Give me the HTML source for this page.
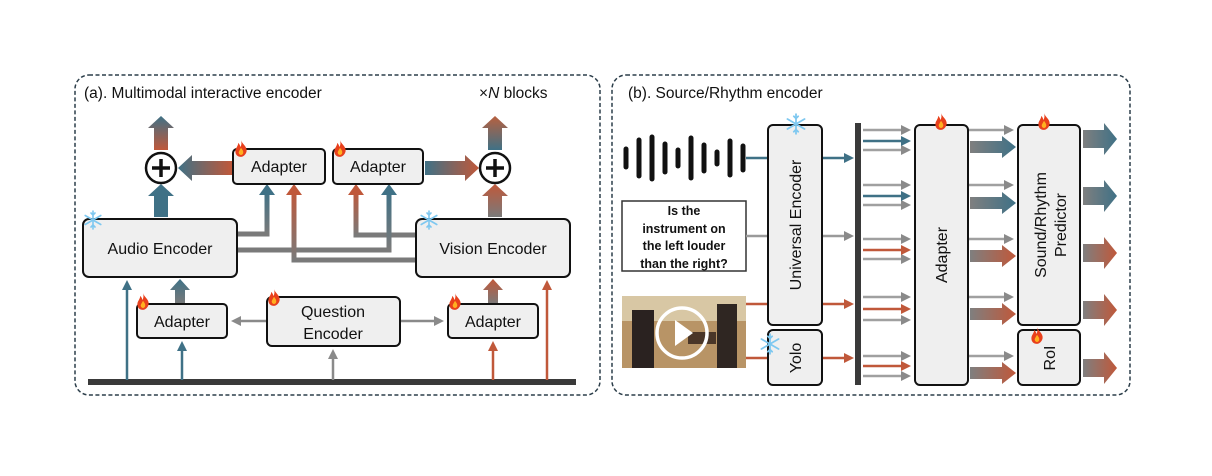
<!DOCTYPE html>
<html><head><meta charset="utf-8"><style>
html,body{margin:0;padding:0;background:#fff;width:1212px;height:476px;overflow:hidden}
svg{display:block}
text{font-family:"Liberation Sans",sans-serif;fill:#111}
</style></head><body>
<svg width="1212" height="476" viewBox="0 0 1212 476" xmlns="http://www.w3.org/2000/svg">
<defs>
<linearGradient id="vBO" x1="0" y1="0" x2="0" y2="1"><stop offset="0" stop-color="#3f7186"/><stop offset="1" stop-color="#c0583a"/></linearGradient>
<linearGradient id="vOB" x1="0" y1="0" x2="0" y2="1"><stop offset="0" stop-color="#b8603f"/><stop offset="1" stop-color="#3f7186"/></linearGradient>
<linearGradient id="vBG" x1="0" y1="0" x2="0" y2="1"><stop offset="0" stop-color="#3f7186"/><stop offset="1" stop-color="#7a7a7a"/></linearGradient>
<linearGradient id="vOG" x1="0" y1="0" x2="0" y2="1"><stop offset="0" stop-color="#c0583a"/><stop offset="1" stop-color="#7a7a7a"/></linearGradient>
<linearGradient id="hBO" x1="0" y1="0" x2="1" y2="0"><stop offset="0" stop-color="#3f7186"/><stop offset="1" stop-color="#c0583a"/></linearGradient>
<linearGradient id="hGB" x1="0" y1="0" x2="1" y2="0"><stop offset="0" stop-color="#7f7f7f"/><stop offset="1" stop-color="#3f7186"/></linearGradient>
<linearGradient id="hGO" x1="0" y1="0" x2="1" y2="0"><stop offset="0" stop-color="#7f7f7f"/><stop offset="1" stop-color="#c0583a"/></linearGradient>
<symbol id="fl" viewBox="0 0 20 24"><path d="M10 0 C12 6 19 9 18 16 C17 21 13 24 10 24 C5 24 2 21 2 16 C2 11 6 9 6 4 C8 6 9 8 9 10 C11 7 11 3 10 0Z" fill="#e8401c"/><path d="M10 11 C12 14 14 16 13 19 C12 22 8 22 7 19 C6 17 8 15 10 11Z" fill="#ffb020"/></symbol>
<symbol id="sf" viewBox="-10 -10 20 20"><g stroke="#7ec8f0" stroke-width="1.6" stroke-linecap="round"><line x1="0" y1="-9" x2="0" y2="9"/><line x1="-7.8" y1="-4.5" x2="7.8" y2="4.5"/><line x1="-7.8" y1="4.5" x2="7.8" y2="-4.5"/><path d="M-2 -7 L0 -5 L2 -7 M-2 7 L0 5 L2 7" fill="none"/></g></symbol>
<marker id="ab" markerWidth="10" markerHeight="10" refX="7" refY="5" orient="auto" markerUnits="userSpaceOnUse"><path d="M0 0 L10 5 L0 10Z" fill="#3f7186"/></marker>
<marker id="ao" markerWidth="10" markerHeight="10" refX="7" refY="5" orient="auto" markerUnits="userSpaceOnUse"><path d="M0 0 L10 5 L0 10Z" fill="#c0583a"/></marker>
<marker id="ag" markerWidth="10" markerHeight="10" refX="7" refY="5" orient="auto" markerUnits="userSpaceOnUse"><path d="M0 0 L10 5 L0 10Z" fill="#8a8a8a"/></marker>
</defs>

<rect x="75" y="75" width="525" height="320" rx="14" fill="none" stroke="#2c3e4a" stroke-width="1.5" stroke-dasharray="4,2.5"/>
<text x="84" y="98" font-size="15.5">(a). Multimodal interactive encoder</text>
<text x="479" y="98" font-size="15.5">×<tspan font-style="italic">N</tspan> blocks</text>

<g fill="none" stroke="#7a7a7a" stroke-width="5">
<polyline points="237,234 267,234 267,192"/>
<polyline points="237,250 389,250 389,192"/>
<polyline points="416,235 356,235 356,192"/>
<polyline points="416,260 294,260 294,192"/>
</g>
<rect x="264.5" y="190" width="5" height="44" fill="url(#vBG)"/>
<rect x="386.5" y="190" width="5" height="60" fill="url(#vBG)"/>
<rect x="353.5" y="190" width="5" height="45" fill="url(#vOG)"/>
<rect x="291.5" y="190" width="5" height="70" fill="url(#vOG)"/>
<path d="M259 195 L267 184 L275 195Z" fill="#3f7186"/>
<path d="M381 195 L389 184 L397 195Z" fill="#3f7186"/>
<path d="M348 195 L356 184 L364 195Z" fill="#c0583a"/>
<path d="M286 195 L294 184 L302 195Z" fill="#c0583a"/>

<rect x="88" y="379" width="488" height="6" fill="#3a3a3a"/>
<g stroke-width="2.5">
<line x1="127" y1="380" x2="127" y2="283" stroke="#3f7186" marker-end="url(#ab)"/>
<line x1="182" y1="380" x2="182" y2="344" stroke="#3f7186" marker-end="url(#ab)"/>
<line x1="333" y1="380" x2="333" y2="352" stroke="#8a8a8a" marker-end="url(#ag)"/>
<line x1="493" y1="380" x2="493" y2="344" stroke="#c0583a" marker-end="url(#ao)"/>
<line x1="547" y1="380" x2="547" y2="283" stroke="#c0583a" marker-end="url(#ao)"/>
<line x1="266" y1="321" x2="234" y2="321" stroke="#8a8a8a" marker-end="url(#ag)"/>
<line x1="401" y1="321" x2="441" y2="321" stroke="#8a8a8a" marker-end="url(#ag)"/>
</g>

<path d="M154 150 L154 128 L148 128 L161 116 L174 128 L168 128 L168 150Z" fill="url(#vBO)"/>
<path d="M488 150 L488 128 L482 128 L495 116 L508 128 L502 128 L502 150Z" fill="url(#vOB)"/>
<path d="M154 217 L154 196 L148 196 L161 184 L174 196 L168 196 L168 217Z" fill="#3f7186"/>
<path d="M488 217 L488 196 L482 196 L495 184 L508 196 L502 196 L502 217Z" fill="url(#vOG)"/>
<path d="M175 304 L175 290 L170 290 L180 279 L190 290 L185 290 L185 304Z" fill="url(#vBG)"/>
<path d="M488 304 L488 290 L483 290 L493 279 L503 290 L498 290 L498 304Z" fill="url(#vOG)"/>
<path d="M232 161 L192 161 L192 155 L178 168 L192 181 L192 175 L232 175Z" fill="url(#hBO)"/>
<path d="M425 161 L465 161 L465 155 L479 168 L465 181 L465 175 L425 175Z" fill="url(#hBO)"/>

<g fill="#fff" stroke="#111" stroke-width="2.5">
<circle cx="161" cy="168" r="15"/><circle cx="495" cy="168" r="15"/>
</g>
<g stroke="#111" stroke-width="3.5"><line x1="152" y1="168" x2="170" y2="168"/><line x1="161" y1="159" x2="161" y2="177"/><line x1="486" y1="168" x2="504" y2="168"/><line x1="495" y1="159" x2="495" y2="177"/></g>

<g fill="#efefef" stroke="#111" stroke-width="2">
<rect x="83" y="219" width="154" height="58" rx="6"/>
<rect x="416" y="219" width="154" height="58" rx="6"/>
<rect x="233" y="149" width="92" height="35" rx="4"/>
<rect x="333" y="149" width="90" height="35" rx="4"/>
<rect x="137" y="304" width="90" height="34" rx="4"/>
<rect x="267" y="297" width="133" height="49" rx="5"/>
<rect x="448" y="304" width="90" height="34" rx="4"/>
</g>
<g font-size="16" text-anchor="middle">
<text x="160" y="254">Audio Encoder</text>
<text x="493" y="254">Vision Encoder</text>
<text x="279" y="172">Adapter</text>
<text x="378" y="172">Adapter</text>
<text x="182" y="327">Adapter</text>
<text x="493" y="327">Adapter</text>
<text x="333" y="317">Question</text>
<text x="333" y="339">Encoder</text>
</g>
<use href="#fl" x="234" y="140" width="14" height="17"/>
<use href="#fl" x="333" y="140" width="14" height="17"/>
<use href="#fl" x="136" y="293" width="14" height="17"/>
<use href="#fl" x="267" y="289" width="14" height="17"/>
<use href="#fl" x="448" y="293" width="14" height="17"/>
<use href="#sf" x="83" y="210" width="20" height="20"/>
<use href="#sf" x="419" y="210" width="20" height="20"/>

<rect x="612" y="75" width="518" height="320" rx="14" fill="none" stroke="#2c3e4a" stroke-width="1.5" stroke-dasharray="4,2.5"/>
<text x="628" y="98" font-size="15.5">(b). Source/Rhythm encoder</text>

<g stroke="#111" stroke-width="5" stroke-linecap="round">
<line x1="626" y1="149" x2="626" y2="167"/><line x1="639" y1="140" x2="639" y2="176"/>
<line x1="652" y1="137" x2="652" y2="179"/><line x1="665" y1="144" x2="665" y2="172"/>
<line x1="678" y1="150" x2="678" y2="166"/><line x1="691" y1="138" x2="691" y2="178"/>
<line x1="704" y1="145" x2="704" y2="171"/><line x1="717" y1="152" x2="717" y2="164"/>
<line x1="730" y1="141" x2="730" y2="175"/><line x1="743" y1="146" x2="743" y2="170"/>
</g>
<rect x="622" y="201" width="124" height="70" fill="#fff" stroke="#333" stroke-width="1.5"/>
<g font-size="12.5" text-anchor="middle" font-weight="bold" fill="#222">
<text x="684" y="215">Is the</text><text x="684" y="233">instrument on</text>
<text x="684" y="250">the left louder</text><text x="684" y="268">than the right?</text>
</g>
<rect x="622" y="296" width="124" height="72" fill="#b89466"/>
<rect x="622" y="296" width="124" height="25" fill="#d8c7a4"/>
<rect x="632" y="310" width="22" height="58" fill="#2a2220"/>
<rect x="717" y="304" width="20" height="64" fill="#2f2622"/>
<rect x="688" y="332" width="28" height="12" fill="#4a3628"/>
<circle cx="682" cy="333" r="25" fill="none" stroke="#fff" stroke-width="3.5"/>
<path d="M675 320 L693 333 L675 346Z" fill="#fff"/>

<g stroke-width="2.5" fill="none">
<line x1="746" y1="158" x2="768" y2="158" stroke="#3f7186"/>
<line x1="822" y1="158" x2="851" y2="158" stroke="#3f7186" marker-end="url(#ab)"/>
<line x1="746" y1="236" x2="768" y2="236" stroke="#9a9a9a"/>
<line x1="822" y1="236" x2="851" y2="236" stroke="#9a9a9a" marker-end="url(#ag)"/>
<line x1="746" y1="304" x2="768" y2="304" stroke="#c0583a"/>
<line x1="822" y1="304" x2="851" y2="304" stroke="#c0583a" marker-end="url(#ao)"/>
<line x1="746" y1="358" x2="768" y2="358" stroke="#c0583a"/>
<line x1="822" y1="358" x2="851" y2="358" stroke="#c0583a" marker-end="url(#ao)"/>
</g>
<rect x="855" y="123" width="6" height="262" fill="#3a3a3a"/>

<g stroke-width="2.5">
<g stroke="#a0a0a0"><line x1="863" y1="130" x2="908" y2="130" marker-end="url(#ag)"/><line x1="863" y1="150" x2="908" y2="150" marker-end="url(#ag)"/>
<line x1="863" y1="185" x2="908" y2="185" marker-end="url(#ag)"/><line x1="863" y1="205" x2="908" y2="205" marker-end="url(#ag)"/>
<line x1="863" y1="239" x2="908" y2="239" marker-end="url(#ag)"/><line x1="863" y1="259" x2="908" y2="259" marker-end="url(#ag)"/>
<line x1="863" y1="297" x2="908" y2="297" marker-end="url(#ag)"/><line x1="863" y1="320" x2="908" y2="320" marker-end="url(#ag)"/>
<line x1="863" y1="356" x2="908" y2="356" marker-end="url(#ag)"/><line x1="863" y1="376" x2="908" y2="376" marker-end="url(#ag)"/></g>
<line x1="863" y1="141" x2="908" y2="141" stroke="#3f7186" marker-end="url(#ab)"/>
<line x1="863" y1="196" x2="908" y2="196" stroke="#3f7186" marker-end="url(#ab)"/>
<line x1="863" y1="250" x2="908" y2="250" stroke="#c0583a" marker-end="url(#ao)"/>
<line x1="863" y1="309" x2="908" y2="309" stroke="#c0583a" marker-end="url(#ao)"/>
<line x1="863" y1="366" x2="908" y2="366" stroke="#c0583a" marker-end="url(#ao)"/>
<g stroke="#a0a0a0"><line x1="968" y1="130" x2="1011" y2="130" marker-end="url(#ag)"/>
<line x1="968" y1="185" x2="1011" y2="185" marker-end="url(#ag)"/>
<line x1="968" y1="239" x2="1011" y2="239" marker-end="url(#ag)"/>
<line x1="968" y1="297" x2="1011" y2="297" marker-end="url(#ag)"/>
<line x1="968" y1="356" x2="1011" y2="356" marker-end="url(#ag)"/></g>
</g>
<g>
<path d="M970 141 L1002 141 L1002 136 L1016 147 L1002 158 L1002 153 L970 153Z" fill="url(#hGB)"/>
<path d="M970 197 L1002 197 L1002 192 L1016 203 L1002 214 L1002 209 L970 209Z" fill="url(#hGB)"/>
<path d="M970 250 L1002 250 L1002 245 L1016 256 L1002 267 L1002 262 L970 262Z" fill="url(#hGO)"/>
<path d="M970 308 L1002 308 L1002 303 L1016 314 L1002 325 L1002 320 L970 320Z" fill="url(#hGO)"/>
<path d="M970 367 L1002 367 L1002 362 L1016 373 L1002 384 L1002 379 L970 379Z" fill="url(#hGO)"/>
</g>
<g>
<path d="M1083 130 L1104 130 L1104 123 L1117 139 L1104 155 L1104 148 L1083 148Z" fill="url(#hGB)"/>
<path d="M1083 187 L1104 187 L1104 180 L1117 196 L1104 212 L1104 205 L1083 205Z" fill="url(#hGB)"/>
<path d="M1083 244 L1104 244 L1104 237 L1117 253 L1104 269 L1104 262 L1083 262Z" fill="url(#hGO)"/>
<path d="M1083 301 L1104 301 L1104 294 L1117 310 L1104 326 L1104 319 L1083 319Z" fill="url(#hGO)"/>
<path d="M1083 359 L1104 359 L1104 352 L1117 368 L1104 384 L1104 377 L1083 377Z" fill="url(#hGO)"/>
</g>

<g fill="#efefef" stroke="#111" stroke-width="2">
<rect x="768" y="125" width="54" height="200" rx="5"/>
<rect x="768" y="330" width="54" height="55" rx="5"/>
<rect x="915" y="125" width="53" height="260" rx="5"/>
<rect x="1018" y="125" width="62" height="200" rx="5"/>
<rect x="1018" y="330" width="62" height="55" rx="5"/>
</g>
<g font-size="16" text-anchor="middle">
<text transform="translate(801,225) rotate(-90)">Universal Encoder</text>
<text transform="translate(801,358) rotate(-90)">Yolo</text>
<text transform="translate(947,255) rotate(-90)">Adapter</text>
<text transform="translate(1046,225) rotate(-90)">Sound/Rhythm</text>
<text transform="translate(1066,225) rotate(-90)">Predictor</text>
<text transform="translate(1055,358) rotate(-90)">RoI</text>
</g>
<use href="#fl" x="934" y="113" width="14" height="17"/>
<use href="#fl" x="1037" y="113" width="14" height="17"/>
<use href="#fl" x="1030" y="327" width="14" height="17"/>
<use href="#sf" x="785" y="113" width="22" height="22"/>
<use href="#sf" x="759" y="333" width="22" height="22"/>
</svg>
</body></html>
